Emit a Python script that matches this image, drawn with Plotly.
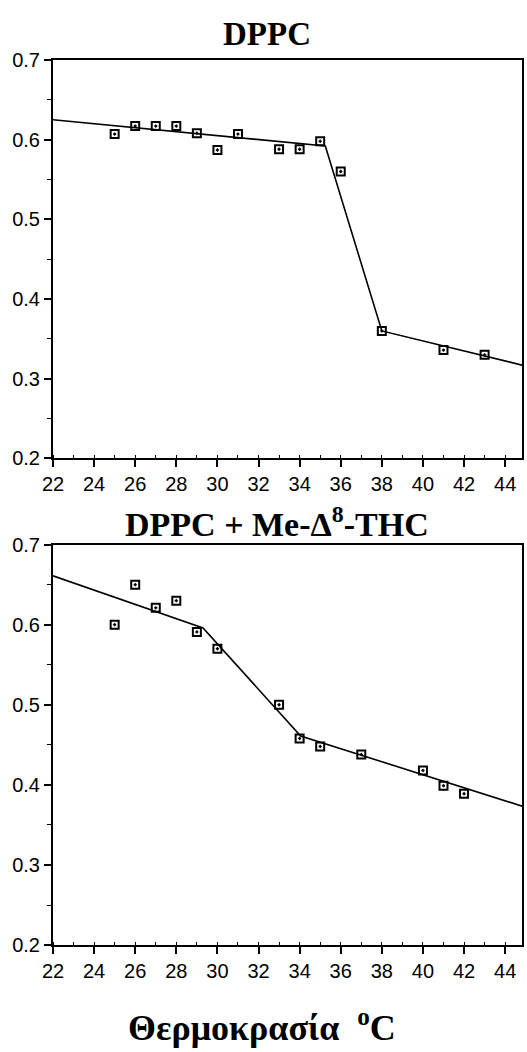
import plotly.graph_objects as go

# DPPC data
t_dppc = [25, 26, 27, 28, 29, 30, 31, 33, 34, 35, 36, 38, 41, 43]
v_dppc = [0.607, 0.617, 0.617, 0.617, 0.608, 0.587, 0.607, 0.588, 0.588, 0.598, 0.560, 0.360, 0.336, 0.330]
fit_x_dppc = [22, 35.25, 38, 45.0]
fit_y_dppc = [0.625, 0.592, 0.360, 0.316]

# DPPC + Me-Δ8-THC data
t_thc = [25, 26, 27, 28, 29, 30, 33, 34, 35, 37, 40, 41, 42]
v_thc = [0.600, 0.650, 0.621, 0.630, 0.591, 0.570, 0.500, 0.458, 0.448, 0.438, 0.418, 0.399, 0.389]
fit_x_thc = [22, 29.3, 34.05, 45.0]
fit_y_thc = [0.661, 0.596, 0.461, 0.372]

x_ticks = [22, 24, 26, 28, 30, 32, 34, 36, 38, 40, 42, 44]
y_ticks = [0.2, 0.3, 0.4, 0.5, 0.6, 0.7]

W, H = 527, 1052
fig = go.Figure()

marker = dict(symbol="square-open-dot", size=8, color="black", line=dict(width=2, color="black"))
line = dict(color="black", width=1.6)

fig.add_trace(go.Scatter(x=fit_x_dppc, y=fit_y_dppc, mode="lines", line=line, xaxis="x", yaxis="y", showlegend=False))
fig.add_trace(go.Scatter(x=t_dppc, y=v_dppc, mode="markers", marker=marker, xaxis="x", yaxis="y", showlegend=False))
fig.add_trace(go.Scatter(x=fit_x_thc, y=fit_y_thc, mode="lines", line=line, xaxis="x2", yaxis="y2", showlegend=False))
fig.add_trace(go.Scatter(x=t_thc, y=v_thc, mode="markers", marker=marker, xaxis="x2", yaxis="y2", showlegend=False))

tickfont = dict(family="Liberation Sans, Arial, sans-serif", size=20, color="black")

def xax(anchor):
    return dict(
        range=[22, 44.82], domain=[0, 1], anchor=anchor,
        tickvals=x_ticks, ticktext=[str(v) for v in x_ticks],
        ticks="outside", ticklen=7, tickwidth=1.5, tickcolor="black",
        showline=True, linecolor="black", linewidth=2, mirror=True,
        showgrid=False, zeroline=False, tickfont=tickfont,
        minor=dict(dtick=1, ticks="inside", ticklen=3, tickwidth=1, tickcolor="black", showgrid=False),
    )

def yax(anchor, dom):
    return dict(
        range=[0.2, 0.7], domain=dom, anchor=anchor,
        tickvals=y_ticks, ticktext=[f"{v:.1f}" for v in y_ticks],
        ticks="outside", ticklen=7, tickwidth=1.5, tickcolor="black",
        showline=True, linecolor="black", linewidth=2, mirror=True,
        showgrid=False, zeroline=False, tickfont=tickfont,
        minor=dict(dtick=0.05, ticks="outside", ticklen=4, tickwidth=1, tickcolor="black", showgrid=False),
    )

def fy(px):
    return 1 - px / H

fig.update_layout(
    width=W, height=H,
    margin=dict(l=53, r=5, t=0, b=0),
    paper_bgcolor="white", plot_bgcolor="white",
    xaxis=xax("y"),
    yaxis=yax("x", [fy(457), fy(50)]),
    xaxis2=xax("y2"),
    yaxis2=yax("x2", [fy(954), fy(545)]),
    showlegend=False,
)

serif = "Liberation Serif, Times New Roman, serif"
fig.add_annotation(text="<b>DPPC</b>", xref="paper", yref="paper", x=(267 - 53) / (W - 58), y=fy(24),
                   showarrow=False, font=dict(family=serif, size=33, color="black"), xanchor="center", yanchor="middle")
fig.add_annotation(text="<b>DPPC + Me-Δ<sup>8</sup>-THC</b>", xref="paper", yref="paper", x=(277 - 53) / (W - 58), y=fy(522),
                   showarrow=False, font=dict(family=serif, size=34, color="black"), xanchor="center", yanchor="middle")
fig.add_annotation(text="<b>Θερμοκρασία  <sup>o</sup>C</b>", xref="paper", yref="paper", x=(262 - 53) / (W - 58), y=fy(1036),
                   showarrow=False, font=dict(family=serif, size=36, color="black"),
                   xanchor="center", yanchor="middle")

fig.write_html("out.html")
